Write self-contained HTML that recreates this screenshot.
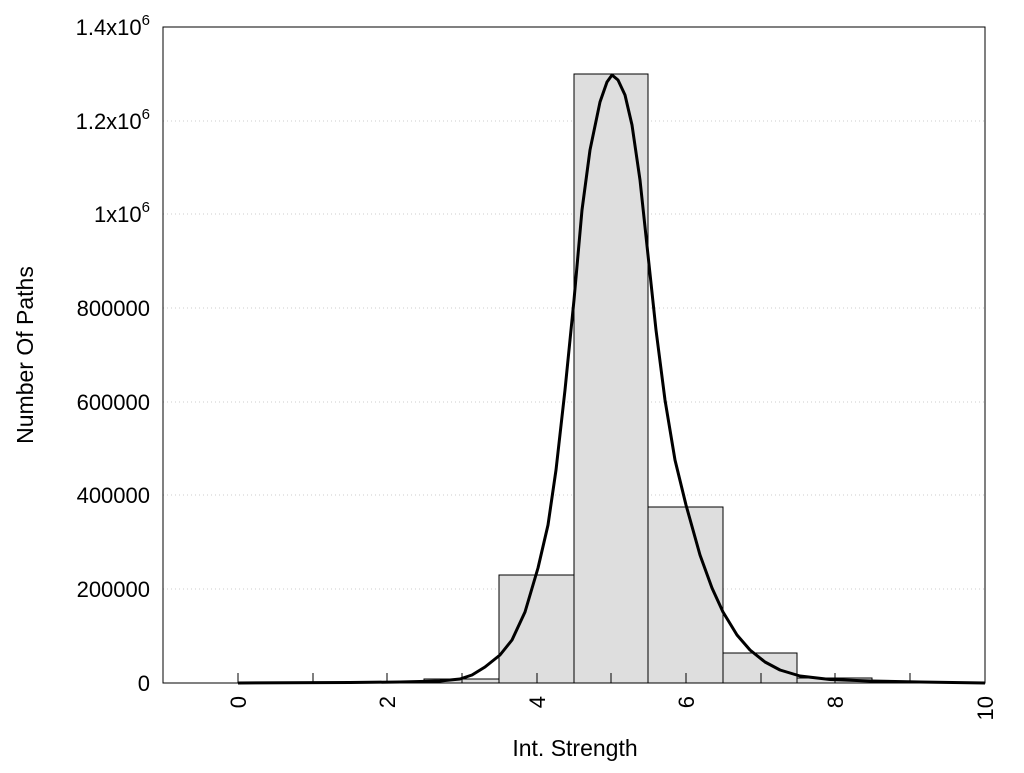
<!DOCTYPE html><html><head><style>body{margin:0;background:#fff}</style></head><body>
<svg width="1024" height="768" xmlns="http://www.w3.org/2000/svg" font-family="Liberation Sans, sans-serif" font-size="22">
<g stroke="#ccc" stroke-dasharray="1,3" stroke-width="1">
<line x1="163" x2="985" y1="121" y2="121"/><line x1="163" x2="985" y1="214" y2="214"/><line x1="163" x2="985" y1="308" y2="308"/><line x1="163" x2="985" y1="402" y2="402"/><line x1="163" x2="985" y1="495" y2="495"/><line x1="163" x2="985" y1="589" y2="589"/>
</g>
<g fill="#dedede" stroke="#000" stroke-width="1">
<rect x="238" y="682" width="75" height="1"/>
<rect x="424" y="679" width="75" height="4"/>
<rect x="499" y="575" width="75" height="108"/>
<rect x="574" y="74" width="74" height="609"/>
<rect x="648" y="507" width="75" height="176"/>
<rect x="723" y="653" width="74" height="30"/>
<rect x="797" y="678" width="75" height="5"/>
</g>
<g stroke="#000" stroke-width="1">
<line x1="238" y1="683" x2="238" y2="673"/><line x1="313" y1="683" x2="313" y2="673"/><line x1="387" y1="683" x2="387" y2="673"/><line x1="462" y1="683" x2="462" y2="673"/><line x1="537" y1="683" x2="537" y2="673"/><line x1="611" y1="683" x2="611" y2="673"/><line x1="686" y1="683" x2="686" y2="673"/><line x1="761" y1="683" x2="761" y2="673"/><line x1="835" y1="683" x2="835" y2="673"/><line x1="910" y1="683" x2="910" y2="673"/>
</g>
<polyline fill="none" stroke="#000" stroke-width="3" stroke-linejoin="round" points="238,683 350,682.5 400,682 440,681 460,679 472,675 485,667 500,655 512,640 525,612 538,568 548,525 556,470 565,390 574,300 582,210 590,150 600,102 607,82 612,75 618,80 625,95 632,125 640,180 648,255 656,330 665,400 675,460 686,505 700,555 712,588 723,612 737,635 750,650 765,662 780,670 800,676 830,679.5 870,681 920,682 985,683"/>
<rect x="163" y="27" width="822" height="656" fill="none" stroke="#000" stroke-width="1"/>
<g text-anchor="end" fill="#000">
<text x="150" y="35">1.4x10<tspan dy="-10" font-size="15">6</tspan></text>
<text x="150" y="129">1.2x10<tspan dy="-10" font-size="15">6</tspan></text>
<text x="150" y="222">1x10<tspan dy="-10" font-size="15">6</tspan></text>
<text x="150" y="316">800000</text><text x="150" y="410">600000</text><text x="150" y="503">400000</text><text x="150" y="597">200000</text><text x="150" y="691">0</text>
</g>
<g text-anchor="end" fill="#000">
<text transform="translate(246,696) rotate(-90)">0</text>
<text transform="translate(395,696) rotate(-90)">2</text>
<text transform="translate(545,696) rotate(-90)">4</text>
<text transform="translate(694,696) rotate(-90)">6</text>
<text transform="translate(843,696) rotate(-90)">8</text>
<text transform="translate(993,696) rotate(-90)">10</text>
</g>
<text x="575" y="756" text-anchor="middle" font-size="23">Int. Strength</text>
<text transform="translate(33,355) rotate(-90)" text-anchor="middle" font-size="23">Number Of Paths</text>
</svg>
</body></html>
